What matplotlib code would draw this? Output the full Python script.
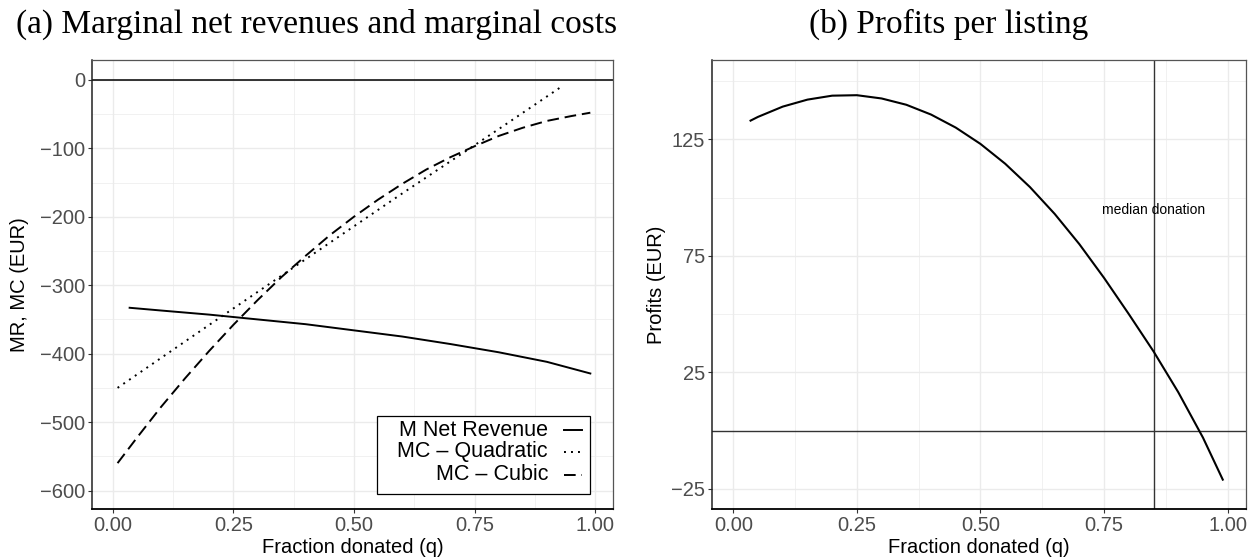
import matplotlib
matplotlib.use("Agg")
import matplotlib.pyplot as plt
from matplotlib.lines import Line2D
from matplotlib.patches import Rectangle

# values
q_rev = [0.035, 0.1, 0.2, 0.3, 0.4, 0.5, 0.6, 0.7, 0.8, 0.9, 0.99]
m_net_revenue = [-333, -337, -343, -350, -357, -366, -375, -386, -398, -412, -429]

q_quad = [0.01, 0.2, 0.4, 0.6, 0.8, 0.93]
mc_quadratic = [-450, -358, -262, -166, -72, -10]

q_cubic = [0.01, 0.05, 0.1, 0.15, 0.2, 0.25, 0.3, 0.35, 0.4, 0.45, 0.5,
           0.55, 0.6, 0.65, 0.7, 0.75, 0.8, 0.85, 0.9, 0.95, 0.99]
mc_cubic = [-560, -523, -478, -436, -396, -358, -322, -288, -257, -227, -200,
            -175, -152, -131, -113, -97, -82, -70, -60, -53, -48]

q_profit = [0.035, 0.05, 0.1, 0.15, 0.2, 0.25, 0.3, 0.35, 0.4, 0.45, 0.5,
            0.55, 0.6, 0.65, 0.7, 0.75, 0.8, 0.85, 0.9, 0.95, 0.99]
profits = [133, 134.6, 139, 142, 143.7, 143.9, 142.5, 139.8, 135.6, 130, 123,
           114.5, 104.5, 93, 80, 65.5, 50, 34, 16.5, -3, -21]

median_donation = 0.851

x_ticks = [0.0, 0.25, 0.5, 0.75, 1.0]
x_tick_labels = ["0.00", "0.25", "0.50", "0.75", "1.00"]
mr_ticks = [-600, -500, -400, -300, -200, -100, 0]
profit_ticks = [-25, 25, 75, 125]

legend_labels = ["M Net Revenue", "MC \u2013 Quadratic", "MC \u2013 Cubic"]

plt.rcParams['font.family'] = ['Liberation Sans', 'DejaVu Sans']
TICK_COL = '#4D4D4D'
GRID_COL = '#EBEBEB'
dotted = (0, (1, 2.6))
dashed = (0, (6, 3))

fig = plt.figure(figsize=(12.57, 5.59), dpi=100)
ax1 = fig.add_axes([92 / 1257, 1 - 509 / 559, (613 - 92) / 1257, 449 / 559])
ax2 = fig.add_axes([712 / 1257, 1 - 509 / 559, (1246 - 712) / 1257, 449 / 559])


def style(ax, yticks, yminor):
    ax.set_xlim(-0.043, 1.037)
    ax.set_xticks(x_ticks)
    ax.set_xticklabels(x_tick_labels)
    ax.set_xticks([0.125, 0.375, 0.625, 0.875], minor=True)
    ax.set_yticks(yticks)
    ax.set_yticks(yminor, minor=True)
    ax.grid(True, which='major', color=GRID_COL, lw=1.0, zorder=0)
    ax.grid(True, which='minor', color=GRID_COL, lw=0.5, zorder=0)
    ax.set_axisbelow(True)
    ax.tick_params(which='major', length=3, width=0.8, color='#333333',
                   labelsize=14.5, labelcolor=TICK_COL, pad=2)
    ax.tick_params(which='minor', length=0)
    for s in ax.spines.values():
        s.set_color('#555555')
        s.set_linewidth(0.9)
    ax.spines['bottom'].set_color('black')
    ax.spines['bottom'].set_linewidth(1.3)
    ax.spines['left'].set_color('#222222')
    ax.spines['left'].set_linewidth(1.1)
    ax.set_xlabel("Fraction donated (q)", fontsize=14.5, labelpad=2)


# (a) marginal net revenues and marginal costs
ax1.axhline(0, color='black', lw=1.1)
ax1.plot(q_rev, m_net_revenue, color='black', lw=1.4, ls='-')
ax1.plot(q_quad, mc_quadratic, color='black', lw=1.4, ls=dotted)
ax1.plot(q_cubic, mc_cubic, color='black', lw=1.4, ls=dashed)
ax1.set_ylim(-627, 29)
style(ax1, mr_ticks, [-550, -450, -350, -250, -150, -50])
ax1.set_yticklabels([str(v).replace('-', '\u2212') for v in mr_ticks])
ax1.set_ylabel("MR, MC (EUR)", fontsize=14.5, labelpad=8)

# legend drawn by hand so the labels sit right-aligned before the keys
tr = ax1.transAxes
x0, x1 = ax1.get_position().x0 * 1257, ax1.get_position().x1 * 1257
y0, y1 = (1 - ax1.get_position().y1) * 559, (1 - ax1.get_position().y0) * 559


def ax_xy(px, py):
    return (px - x0) / (x1 - x0), 1 - (py - y0) / (y1 - y0)


bl = ax_xy(377, 494)
tr_ = ax_xy(590, 416)
ax1.add_patch(Rectangle(bl, tr_[0] - bl[0], tr_[1] - bl[1], transform=tr,
                        facecolor='white', edgecolor='black', lw=0.9, zorder=5))
for py, lab, ls in zip([430, 452, 475], legend_labels, ['-', dotted, dashed]):
    tx, ty = ax_xy(548, py)
    ax1.text(tx, ty, lab, transform=tr, ha='right', va='center', fontsize=15.5,
             color='black', zorder=6)
    la, _ = ax_xy(564, py)
    lb, _ = ax_xy(582, py)
    ax1.add_line(Line2D([la, lb], [ty, ty], transform=tr, color='black', lw=1.4,
                        ls=ls, zorder=6))

# (b) profits per listing
ax2.axhline(0, color='#333333', lw=1.0)
ax2.axvline(median_donation, color='#333333', lw=1.0)
ax2.plot(q_profit, profits, color='black', lw=1.5)
ax2.set_ylim(-33.6, 159)
style(ax2, profit_ticks, [0, 50, 100, 150])
ax2.set_yticklabels([str(v).replace('-', '\u2212') for v in profit_ticks])
ax2.set_ylabel("Profits (EUR)", fontsize=14.5, labelpad=4)
ax2.text(median_donation, 94.5, "median donation", ha='center', va='center',
         fontsize=10, color='black')

fig.text(0.252, 1 - 24 / 559, "(a) Marginal net revenues and marginal costs",
         ha='center', va='center', fontsize=24, family='Liberation Serif')
fig.text(0.755, 1 - 24 / 559, "(b) Profits per listing",
         ha='center', va='center', fontsize=24, family='Liberation Serif')

fig.savefig("out.png", dpi=100)
